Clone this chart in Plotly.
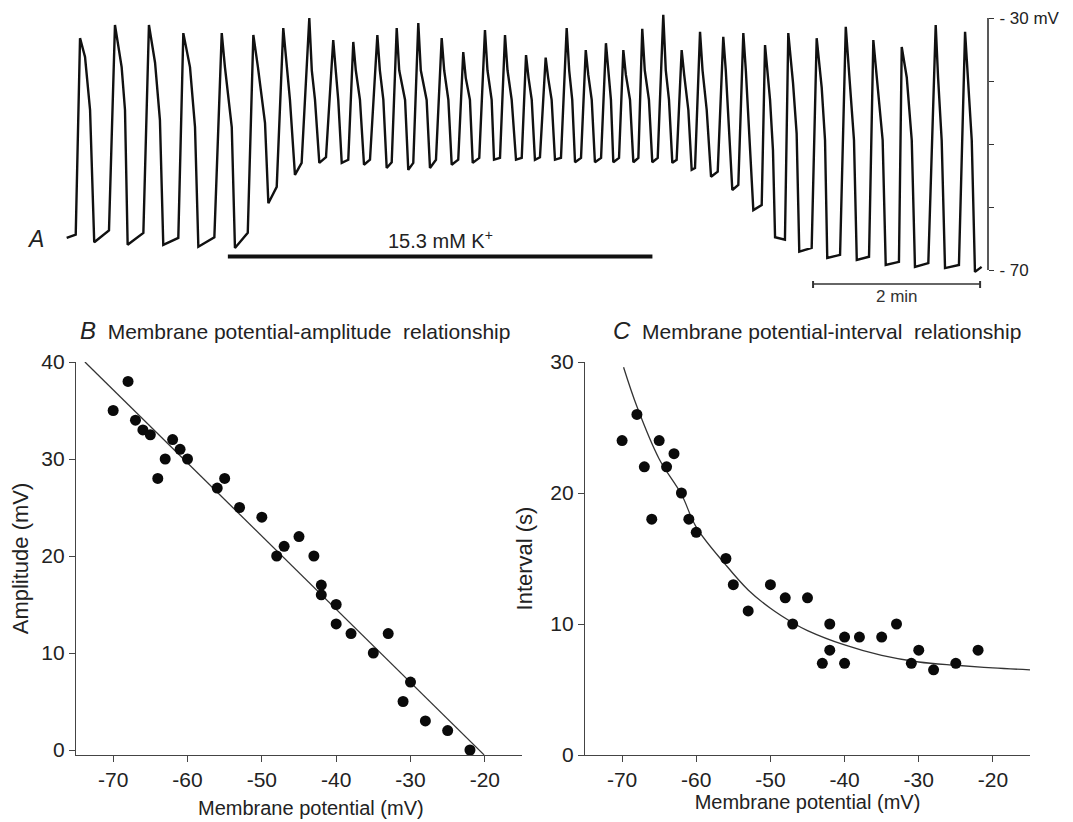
import plotly.graph_objects as go

# page is drawn with the browser's default 8px body margin
OFF = 8
W, H = 1073 - OFF, 822 - OFF
FONT = "Liberation Sans, Arial, sans-serif"
TXT = "#222222"
AX = "#444444"

# ---------------- Panel A: slow-wave recording (landmarks of each wave) -------------
# time in s, membrane potential in mV
t_start, v_start = 1.2, -64.9
t_end, v_end = 658.5, -69.5
t_up = [7.7, 31.6, 56.3, 81.4, 107.3, 131.3, 152.1, 170.0, 187.5, 203.5, 219.1, 234.7,
        250.2, 266.5, 282.5, 297.6, 312.5, 328.1, 341.2, 356.3, 370.7, 385.1, 398.0,
        411.9, 425.8, 439.4, 452.6, 468.9, 483.7, 500.5, 517.2, 536.4, 556.8, 577.6,
        599.1, 620.2, 642.2]
t_pk = [10.8, 35.9, 60.3, 85.0, 112.6, 135.3, 156.8, 175.5, 192.7, 207.1, 224.4, 238.3,
        253.8, 270.6, 286.1, 301.7, 316.1, 331.2, 345.3, 360.4, 374.1, 388.6, 401.1,
        414.7, 429.8, 443.0, 456.2, 472.9, 487.3, 502.9, 519.6, 540.0, 560.9, 580.7,
        601.1, 625.5, 646.6]
t_pl = [14.4, 40.7, 64.7, 89.8, 114.9, 138.6, 158.8, 177.3, 194.5, 208.9, 226.2, 240.1,
        255.6, 272.4, 287.9, 303.5, 317.9, 333.0, 347.1, 362.2, 375.9, 390.4, 402.9,
        416.5, 431.6, 444.8, 458.0, 474.7, 489.1, 506.5, 523.0, 543.6, 563.9, 584.2,
        604.7, 627.2, 648.7]
t_knee = [18.0, 43.1, 68.2, 93.4, 119.8, 143.7, 161.6, 179.6, 196.3, 211.9, 228.7, 244.3,
          259.8, 275.4, 290.9, 306.5, 320.9, 335.3, 349.6, 364.4, 378.4, 392.2, 405.9,
          419.5, 433.9, 447.8, 461.0, 476.5, 491.4, 508.6, 525.6, 546.0, 566.8, 587.4,
          608.3, 629.8, 651.4]
t_bot = [21.0, 45.0, 70.6, 95.8, 122.1, 146.1, 165.2, 182.7, 198.8, 214.8, 231.1, 246.6,
         262.2, 277.8, 292.9, 308.2, 324.0, 337.6, 352.0, 366.4, 380.7, 393.9, 408.3,
         421.9, 436.3, 450.2, 464.1, 479.4, 494.5, 510.1, 527.5, 547.6, 568.8, 589.6,
         610.6, 632.2, 653.7]
v_pre = [-64.4, -63.7, -64.1, -64.9, -64.8, -64.1, -56.8, -53.0, -52.1, -52.5, -52.5, -52.9,
         -53.0, -52.5, -52.5, -52.2, -52.2, -52.2, -52.1, -52.2, -52.2, -52.2, -52.2,
         -52.2, -52.2, -52.5, -53.8, -54.4, -56.5, -59.7, -65.2, -66.5, -67.6, -67.9,
         -68.7, -68.9, -69.2]
v_pk = [-33.2, -31.1, -31.1, -32.4, -32.4, -32.7, -31.6, -30.0, -33.5, -33.8, -32.7, -31.6,
        -30.8, -33.2, -35.4, -31.9, -32.7, -35.9, -36.3, -31.6, -35.1, -34.0, -35.1,
        -31.7, -29.5, -35.1, -32.2, -33.0, -32.4, -34.3, -32.4, -33.2, -31.4, -33.5,
        -34.6, -31.1, -32.2]
v_pl = [-36.2, -37.8, -37.1, -37.8, -37.8, -37.8, -35.9, -38.3, -38.3, -38.3, -38.3, -38.3,
        -38.3, -38.3, -39.5, -38.3, -38.3, -39.5, -39.5, -38.3, -39.0, -38.3, -39.0,
        -38.3, -38.3, -39.0, -38.3, -38.3, -38.3, -43.0, -40.3, -41.0, -40.3, -41.9,
        -39.4, -39.4, -39.4]
v_knee = [-44.6, -44.6, -46.2, -47.3, -47.3, -46.7, -43.0, -43.0, -43.0, -43.0, -43.0, -43.0,
          -43.0, -43.0, -43.0, -43.0, -43.0, -43.0, -43.0, -43.0, -43.0, -43.0, -43.0,
          -43.0, -43.0, -44.6, -44.6, -46.2, -47.8, -51.0, -48.3, -49.4, -49.4, -49.4,
          -49.4, -49.4, -49.4]
v_bot = [-65.6, -66.0, -66.0, -66.3, -66.5, -59.4, -54.9, -53.0, -53.0, -53.3, -53.8, -54.1,
         -53.8, -53.3, -53.0, -52.5, -52.5, -52.5, -52.5, -52.9, -52.9, -52.9, -52.9,
         -52.9, -53.0, -54.1, -55.2, -57.3, -60.5, -64.8, -67.1, -68.1, -68.4, -69.2,
         -69.5, -69.7, -70.3]
k_on, k_off = 117, 422           # 15.3 mM K+ application (s)
bar_start, bar_len = 537.4, 120  # 2 min scale bar (s)
mv_ticks = [-70, -30]
mv_ticktext = ["- 70", "- 30 mV"]

# ---------------- Panel B ----------------
b_x = [-70, -68, -67, -66, -65, -64, -63, -62, -61, -60, -56, -55, -53, -50, -48, -47, -45,
       -43, -42, -42, -40, -40, -38, -35, -33, -31, -30, -28, -25, -22]
b_y = [35, 38, 34, 33, 32.5, 28, 30, 32, 31, 30, 27, 28, 25, 24, 20, 21, 22, 20, 17, 16, 15,
       13, 12, 10, 12, 5, 7, 3, 2, 0]
fit_b_x = [-73.8, -20.1]
fit_b_y = [40.0, -0.5]

# ---------------- Panel C ----------------
c_x = [-70, -68, -67, -66, -65, -64, -63, -62, -61, -60, -56, -55, -53, -50, -48, -47, -45,
       -43, -42, -42, -40, -40, -38, -35, -33, -31, -30, -28, -25, -22]
c_y = [24, 26, 22, 18, 24, 22, 23, 20, 18, 17, 15, 13, 11, 13, 12, 10, 12, 7, 10, 8, 9, 7,
       9, 9, 10, 7, 8, 6.5, 7, 8]
fit_c_x = [-69.8, -68, -65, -62, -60, -56, -53, -50, -47, -45, -40, -35, -30, -25, -20, -15]
fit_c_y = [29.6, 26.6, 22.6, 19.9, 17.4, 14.5, 12.6, 11.2, 10.1, 9.5, 8.4, 7.6, 7.1, 6.85,
           6.65, 6.5]

pot_ticks = [-70, -60, -50, -40, -30, -20]
pot_ticktext = ["-70", "-60", "-50", "-40", "-30", "-20"]

# build trace A from landmarks
tx, vy = [t_start], [v_start]
for i in range(len(t_up)):
    tx += [t_up[i], t_pk[i], t_pl[i], t_knee[i], t_bot[i]]
    vy += [v_pre[i], v_pk[i], v_pl[i], v_knee[i], v_bot[i]]
tx.append(t_end)
vy.append(v_end)


def px(x):
    return (x - OFF) / W


def py(y):
    return 1 - (y - OFF) / H


fig = go.Figure()
fig.add_trace(go.Scatter(x=tx, y=vy, mode="lines", xaxis="x", yaxis="y",
                         line=dict(color="#111111", width=2.4), showlegend=False))
fig.add_trace(go.Scatter(x=fit_b_x, y=fit_b_y, mode="lines", xaxis="x2", yaxis="y2",
                         line=dict(color="#333333", width=1.3), showlegend=False))
fig.add_trace(go.Scatter(x=b_x, y=b_y, mode="markers", xaxis="x2", yaxis="y2",
                         marker=dict(color="#0a0a0a", size=11), showlegend=False))
fig.add_trace(go.Scatter(x=fit_c_x, y=fit_c_y, mode="lines", xaxis="x3", yaxis="y3",
                         line=dict(color="#333333", width=1.3, shape="spline"),
                         showlegend=False))
fig.add_trace(go.Scatter(x=c_x, y=c_y, mode="markers", xaxis="x3", yaxis="y3",
                         marker=dict(color="#0a0a0a", size=11), showlegend=False))

axstyle = dict(showline=True, linecolor=AX, linewidth=1.3, ticks="outside", ticklen=6,
               tickwidth=1.3, tickcolor=AX, showgrid=False, zeroline=False,
               automargin=False,
               tickfont=dict(family=FONT, size=21, color=TXT))

x0A = 65
spp = 1.392
fig.update_layout(
    template="none",
    width=W, height=H, margin=dict(l=0, r=0, t=0, b=0, pad=0),
    paper_bgcolor="white", plot_bgcolor="white",
    font=dict(family=FONT, color=TXT),
    xaxis=dict(domain=[px(x0A), px(x0A + 660 * spp)], range=[0, 660], visible=False,
               anchor="y", automargin=False),
    yaxis=dict(domain=[py(270 + 6.3), py(18 - 6.3)], range=[-71, -29], anchor="free",
               position=px(988), side="right", showline=False, ticks="outside",
               ticklen=5, tickwidth=1.3, tickcolor="#333", tickvals=mv_ticks,
               ticktext=mv_ticktext, showgrid=False, zeroline=False, automargin=False,
               ticklabelstandoff=2,
               minor=dict(ticks="outside", ticklen=5, tickwidth=1.3, tickcolor="#333",
                          tick0=-70, dtick=10, showgrid=False),
               tickfont=dict(family=FONT, size=17, color=TXT)),
    xaxis2=dict(domain=[px(76), px(522)], range=[-75, -15], anchor="y2",
                tickvals=pot_ticks, ticktext=pot_ticktext, **axstyle),
    yaxis2=dict(domain=[py(755), py(362)], range=[-0.515, 40], anchor="x2",
                tickvals=[0, 10, 20, 30, 40],
                title=dict(text="Amplitude (mV)", standoff=9,
                           font=dict(family=FONT, size=22, color=TXT)), **axstyle),
    xaxis3=dict(domain=[px(585), px(1030)], range=[-75, -15], anchor="y3",
                tickvals=pot_ticks, ticktext=pot_ticktext,
                title=dict(text="Membrane potential (mV)", standoff=3,
                           font=dict(family=FONT, size=20, color=TXT)), **axstyle),
    yaxis3=dict(domain=[py(755), py(362)], range=[0, 30], anchor="x3",
                tickvals=[0, 10, 20, 30],
                title=dict(text="Interval (s)", standoff=11,
                           font=dict(family=FONT, size=22, color=TXT)), **axstyle),
)

shapes = [
    # mV scale bar line
    dict(type="line", xref="paper", yref="y", x0=px(988), x1=px(988), y0=-70, y1=-30,
         line=dict(color="#222", width=1.5)),
    # K+ application bar
    dict(type="line", xref="x", yref="paper", x0=k_on, x1=k_off, y0=py(256.5),
         y1=py(256.5), line=dict(color="#111", width=4)),
    # 2 min time bar
    dict(type="line", xref="x", yref="paper", x0=bar_start, x1=bar_start + bar_len,
         y0=py(284), y1=py(284), line=dict(color="#333", width=1.4)),
    dict(type="line", xref="x", yref="paper", x0=bar_start, x1=bar_start,
         y0=py(281), y1=py(288), line=dict(color="#333", width=2)),
    dict(type="line", xref="x", yref="paper", x0=bar_start + bar_len,
         x1=bar_start + bar_len, y0=py(281), y1=py(288), line=dict(color="#333", width=2)),
]
fig.update_layout(shapes=shapes)

ann = [
    dict(text="<i>A</i>", xref="paper", yref="paper", x=px(35), y=py(239),
         xanchor="center", yanchor="middle", showarrow=False,
         font=dict(family=FONT, size=23, color=TXT)),
    dict(text="15.3 mM K<sup>+</sup>", xref="x", yref="paper", x=(k_on + k_off) / 2,
         y=py(239), xanchor="center", yanchor="middle", showarrow=False,
         font=dict(family=FONT, size=20, color=TXT)),
    dict(text="2 min", xref="x", yref="paper", x=bar_start + bar_len / 2, y=py(296),
         xanchor="center", yanchor="middle", showarrow=False,
         font=dict(family=FONT, size=17, color="#333")),
    dict(text="Membrane potential (mV)", xref="paper", yref="paper", x=px(311),
         y=py(808), xanchor="center", yanchor="middle", showarrow=False,
         font=dict(family=FONT, size=20, color=TXT)),
    dict(text="<i><span style='font-size:24px'>B</span></i>  Membrane potential-amplitude  relationship",
         xref="paper", yref="paper", x=px(78), y=py(330), xanchor="left",
         yanchor="middle", showarrow=False, font=dict(family=FONT, size=21, color=TXT)),
    dict(text="<i><span style='font-size:24px'>C</span></i>  Membrane potential-interval  relationship",
         xref="paper", yref="paper", x=px(611), y=py(330), xanchor="left",
         yanchor="middle", showarrow=False, font=dict(family=FONT, size=21, color=TXT)),
]
fig.update_layout(annotations=ann)

fig.write_html("out.html")
